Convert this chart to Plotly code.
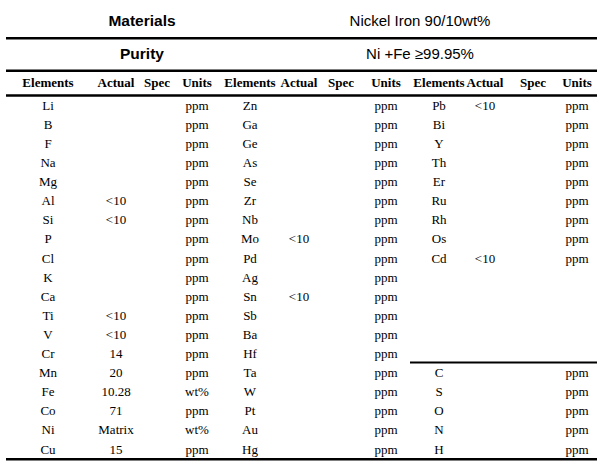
import plotly.graph_objects as go

# ---- data ----
title_labels = ["Materials", "Purity"]
title_values = ["Nickel Iron 90/10wt%", "Ni +Fe \u226599.95%"]

headers = ["Elements", "Actual", "Spec", "Units"] * 3

col1_elements = ["Li", "B", "F", "Na", "Mg", "Al", "Si", "P", "Cl", "K", "Ca", "Ti", "V", "Cr",
                 "Mn", "Fe", "Co", "Ni", "Cu"]
col1_actual = ["", "", "", "", "", "<10", "<10", "", "", "", "", "<10", "<10", "14",
               "20", "10.28", "71", "Matrix", "15"]
col1_units = ["ppm"] * 15 + ["wt%", "ppm", "wt%", "ppm"]

col2_elements = ["Zn", "Ga", "Ge", "As", "Se", "Zr", "Nb", "Mo", "Pd", "Ag", "Sn", "Sb", "Ba", "Hf",
                 "Ta", "W", "Pt", "Au", "Hg"]
col2_actual = ["", "", "", "", "", "", "", "<10", "", "", "<10", "", "", "",
               "", "", "", "", ""]
col2_units = ["ppm"] * 19

col3_elements = ["Pb", "Bi", "Y", "Th", "Er", "Ru", "Rh", "Os", "Cd", "", "", "", "", "",
                 "C", "S", "O", "N", "H"]
col3_actual = ["<10", "", "", "", "", "", "", "", "<10", "", "", "", "", "",
               "", "", "", "", ""]
col3_units = ["ppm"] * 9 + [""] * 5 + ["ppm"] * 5

# ---- layout geometry (pixels) ----
W, H = 602, 471
row0_y, row_h = 106.5, 19.1
group_x = [
    [48, 116, 157, 197],
    [250, 299, 341, 386],
    [439, 485, 533, 577],
]

serif = "Liberation Serif, Times New Roman, serif"
sans = "Liberation Sans, Arial, sans-serif"

fig = go.Figure()

def add_text(xs, ys, texts, size, family, bold=False):
    fig.add_trace(go.Scatter(
        x=xs, y=ys, text=[f"<b>{t}</b>" if (bold and t) else t for t in texts],
        mode="text", textposition="middle center",
        textfont=dict(size=size, family=family, color="black"),
        hoverinfo="skip", showlegend=False,
    ))

# title rows
add_text([142, 142], [22, 55], title_labels, 15.5, sans, bold=True)
add_text([420, 420], [22, 55], title_values, 15, sans)

# header row
hx = [x for g in group_x for x in g]
add_text(hx, [83.5] * len(hx), headers, 13, serif, bold=True)

# body
groups = [
    (col1_elements, col1_actual, col1_units),
    (col2_elements, col2_actual, col2_units),
    (col3_elements, col3_actual, col3_units),
]
for gx, (els, acts, units) in zip(group_x, groups):
    ys = [row0_y + i * row_h for i in range(len(els))]
    add_text([gx[0]] * len(els), ys, els, 13, serif)
    add_text([gx[1]] * len(acts), ys, acts, 13, serif)
    add_text([gx[3]] * len(units), ys, units, 13, serif)

# rules
def hline(y, x0, x1, w):
    fig.add_shape(type="line", xref="x", yref="y", x0=x0, x1=x1, y0=y, y1=y,
                  line=dict(color="black", width=w))

hline(38.3, 6, 597, 2.6)
hline(70.8, 6, 597, 2.6)
hline(95.5, 6, 597, 2.4)
hline(362.5, 410, 597, 2.2)
hline(459.3, 6, 597, 2.6)

fig.update_xaxes(range=[0, W], visible=False, fixedrange=True)
fig.update_yaxes(range=[H, 0], visible=False, fixedrange=True)
fig.update_layout(
    width=W, height=H, margin=dict(l=0, r=0, t=0, b=0),
    paper_bgcolor="white", plot_bgcolor="white",
)

fig.write_html(
    "out.html",
    config={"displayModeBar": False},
    post_script="document.body.style.margin='0';document.body.style.overflow='hidden';",
)
